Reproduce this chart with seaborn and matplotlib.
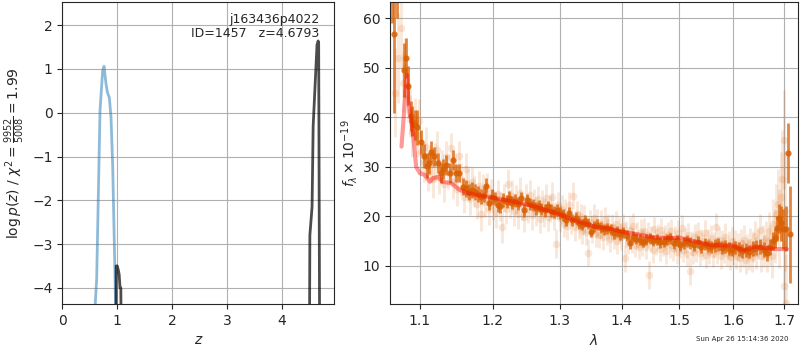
import numpy as np
import pandas as pd
import seaborn as sns
import matplotlib
matplotlib.use("Agg")
from matplotlib import pyplot as plt
from matplotlib.ticker import NullLocator

# ---- p(z) panel ----
pz_blue_z = [0.57, 0.625, 0.686, 0.734, 0.759, 0.795, 0.82, 0.856, 0.886, 0.917, 0.96, 0.985]
pz_blue_lnp = [-5.0, -3.8, 0.05, 0.96, 1.06, 0.66, 0.47, 0.34, -0.1, -1.23, -3.81, -5.5]

pz_low_z = [0.975, 0.98, 1.0, 1.02, 1.035, 1.05, 1.065, 1.075]
pz_low_lnp = [-6.0, -3.5, -3.5, -3.6, -3.7, -4.0, -4.0, -6.0]

pz_high_z = [4.495, 4.505, 4.545, 4.565, 4.635, 4.655, 4.665, 4.685]
pz_high_lnp = [-6.0, -2.8, -2.15, -0.3, 1.55, 1.64, 1.6, -6.0]

z_ticks = [0, 1, 2, 3, 4]
lnp_ticks = [-4, -3, -2, -1, 0, 1, 2]

obj_name = "j163436p4022"
obj_id = 1457
z_best = 4.6793
chi2_num, chi2_den, chi2_red = 9952, 5008, 1.99
stamp = "Sun Apr 26 15:14:36 2020"

# ---- spectrum panel ----
faint_wave = [1.068, 1.072, 1.075, 1.078, 1.081, 1.084, 1.087, 1.090, 1.093, 1.096, 1.099,
              1.102, 1.105, 1.108, 1.111, 1.114, 1.117, 1.120, 1.123, 1.126, 1.129,
              1.132, 1.135, 1.138, 1.141, 1.144, 1.147, 1.150, 1.153, 1.156, 1.159,
              1.162, 1.165, 1.168, 1.171, 1.174, 1.177, 1.180, 1.183, 1.186, 1.189,
              1.192, 1.195, 1.198, 1.201, 1.204, 1.207, 1.210, 1.213, 1.216, 1.219,
              1.222, 1.225, 1.228, 1.231, 1.234, 1.237, 1.240, 1.243, 1.246, 1.249,
              1.252, 1.255, 1.258, 1.261, 1.264, 1.267, 1.270, 1.273, 1.276, 1.279,
              1.282, 1.285, 1.288, 1.291, 1.294, 1.297, 1.300, 1.303, 1.306, 1.309,
              1.312, 1.315, 1.318, 1.321, 1.324, 1.327, 1.330, 1.333, 1.336, 1.339,
              1.342, 1.345, 1.348, 1.351, 1.354, 1.357, 1.360, 1.363, 1.366, 1.369,
              1.372, 1.375, 1.378, 1.381, 1.384, 1.387, 1.390, 1.393, 1.396, 1.399,
              1.402, 1.405, 1.408, 1.411, 1.414, 1.417, 1.420, 1.423, 1.426, 1.429,
              1.432, 1.435, 1.438, 1.441, 1.444, 1.447, 1.450, 1.453, 1.456, 1.459,
              1.462, 1.465, 1.468, 1.471, 1.474, 1.477, 1.480, 1.483, 1.486, 1.489,
              1.492, 1.495, 1.498, 1.501, 1.504, 1.507, 1.510, 1.513, 1.516, 1.519,
              1.522, 1.525, 1.528, 1.531, 1.534, 1.537, 1.540, 1.543, 1.546, 1.549,
              1.552, 1.555, 1.558, 1.561, 1.564, 1.567, 1.570, 1.573, 1.576, 1.579,
              1.582, 1.585, 1.588, 1.591, 1.594, 1.597, 1.600, 1.603, 1.606, 1.609,
              1.612, 1.615, 1.618, 1.621, 1.624, 1.627, 1.630, 1.633, 1.636, 1.639,
              1.642, 1.645, 1.648, 1.651, 1.654, 1.657, 1.660, 1.663, 1.666, 1.669,
              1.672, 1.675, 1.678, 1.681, 1.684, 1.687, 1.690, 1.693, 1.696, 1.699,
              1.701, 1.703, 1.705]
faint_flux = [45.0, 52.0, 58.0, 47.0, 50.0, 44.0, 41.0, 37.0, 39.5, 36.5, 39.3,
              33.0, 31.0, 34.0, 29.0, 30.5, 27.5, 31.0, 33.5, 28.0, 30.0,
              26.5, 32.0, 29.0, 33.8, 27.0, 29.5, 25.5, 32.2, 27.5, 24.0,
              29.5, 26.5, 23.5, 27.0, 25.0, 22.5, 26.2, 20.5, 25.5, 23.0,
              25.8, 21.5, 24.8, 22.3, 20.8, 24.5, 22.0, 17.8, 23.8, 21.4,
              26.5, 22.5, 24.2, 21.0, 23.5, 20.5, 24.8, 22.0, 19.8, 23.6,
              21.5, 24.3, 20.2, 22.8, 21.0, 23.5, 19.5, 22.5, 20.8, 23.8,
              19.8, 21.6, 24.0, 20.0, 14.5, 22.2, 19.6, 21.4, 18.5, 20.8,
              18.0, 22.2, 19.0, 24.2, 17.8, 20.5, 18.2, 19.8, 17.0, 19.5,
              16.8, 12.7, 18.6, 17.2, 19.6, 16.5, 18.8, 16.2, 18.5, 15.9,
              19.2, 16.8, 18.0, 15.5, 17.8, 16.0, 18.4, 15.0, 17.3, 15.8,
              18.0, 11.5, 16.5, 14.8, 17.2, 15.2, 18.0, 14.2, 16.3, 13.8,
              16.8, 14.5, 17.0, 13.9, 16.2, 8.2, 15.5, 13.2, 17.4, 14.8,
              16.0, 13.5, 17.2, 14.5, 15.8, 13.0, 16.3, 14.2, 17.0, 13.6,
              15.5, 12.8, 16.6, 14.0, 17.6, 13.3, 15.2, 12.5, 16.2, 9.0,
              14.5, 12.8, 15.9, 13.4, 16.4, 12.6, 15.0, 13.8, 16.6, 12.2,
              14.8, 13.0, 15.6, 12.4, 14.3, 17.8, 13.1, 15.3, 12.0, 14.6,
              13.2, 15.8, 12.6, 14.2, 11.8, 15.0, 12.9, 14.5, 12.0, 13.8,
              11.5, 14.6, 12.5, 15.2, 11.2, 13.7, 12.2, 14.8, 11.8, 13.9,
              16.0, 12.6, 14.4, 17.2, 12.0, 14.8, 13.0, 15.6, 12.3, 17.0,
              14.2, 12.0, 18.5, 16.0, 20.5, 22.5, 17.5, 24.0, 27.5, 35.5,
              6.0, 21.0, 2.5]
faint_err = [9, 9, 8, 6, 6, 5, 5, 5, 4.5, 4.5, 4.5,
             4, 4, 4, 3.8, 3.8, 3.8, 3.8, 3.8, 3.5, 3.5,
             3.5, 3.2, 3.5, 3.0, 3.4, 3.3, 3.5, 3.0, 3.2, 3.4,
             3.2, 3.0, 3.3, 3.0, 3.2, 3.1, 3.0, 3.4, 3.0, 3.2,
             3.0, 3.2, 2.8, 3.0, 3.1, 2.9, 3.0, 3.2, 2.8, 3.0,
             3.0, 2.8, 3.1, 2.9, 2.8, 3.0, 3.1, 2.8, 3.0, 2.9,
             2.8, 3.0, 2.9, 2.8, 3.0, 2.7, 2.9, 2.8, 3.0, 2.7,
             2.8, 2.7, 2.9, 2.8, 3.0, 2.7, 2.8, 2.9, 2.7, 2.8,
             2.7, 2.8, 2.6, 2.8, 2.7, 2.6, 2.8, 2.7, 2.6, 2.8,
             2.6, 2.8, 2.7, 2.6, 2.8, 2.6, 2.7, 2.6, 2.8, 2.6,
             2.7, 2.6, 2.5, 2.7, 2.6, 2.5, 2.7, 2.6, 2.5, 2.6,
             2.5, 2.8, 2.6, 2.5, 2.6, 2.5, 2.7, 2.5, 2.6, 2.5,
             2.6, 2.5, 2.6, 2.5, 2.6, 2.8, 2.5, 2.6, 2.5, 2.6,
             2.5, 2.6, 2.5, 2.6, 2.5, 2.6, 2.5, 2.6, 2.5, 2.6,
             2.6, 2.5, 2.6, 2.5, 2.7, 2.6, 2.5, 2.6, 2.5, 2.8,
             2.6, 2.5, 2.6, 2.6, 2.5, 2.6, 2.5, 2.6, 2.7, 2.6,
             2.6, 2.7, 2.6, 2.7, 2.6, 2.8, 2.7, 2.6, 2.7, 2.6,
             2.7, 2.8, 2.7, 2.8, 2.7, 2.8, 2.7, 2.8, 2.7, 2.8,
             2.8, 2.9, 2.8, 3.0, 2.9, 2.8, 3.0, 2.9, 3.0, 3.1,
             3.0, 3.2, 3.1, 3.3, 3.2, 3.4, 3.3, 3.5, 3.6, 3.8,
             4.0, 4.5, 5.0, 5.5, 6.0, 7.0, 8.0, 9.0, 10.0, 10.0,
             9.0, 12.0, 10.0]

dark_wave = [1.064, 1.067, 1.0705, 1.0786, 1.082, 1.0848, 1.0877, 1.090, 1.0935, 1.0965,
             1.1013, 1.105, 1.109, 1.112, 1.115, 1.119, 1.124, 1.128, 1.131, 1.135,
             1.140, 1.144, 1.149, 1.153, 1.158, 1.162, 1.166, 1.170, 1.175, 1.179,
             1.183, 1.187, 1.191, 1.195, 1.199, 1.203, 1.207, 1.211, 1.215, 1.220,
             1.224, 1.228, 1.232, 1.237, 1.241, 1.245, 1.250, 1.254, 1.259, 1.263,
             1.268, 1.272, 1.277, 1.282, 1.286, 1.291, 1.296, 1.300, 1.305, 1.310,
             1.315, 1.320, 1.325, 1.330, 1.335, 1.340, 1.345, 1.350, 1.355, 1.360,
             1.366, 1.371, 1.376, 1.382, 1.387, 1.392, 1.398, 1.403, 1.409, 1.414,
             1.420, 1.425, 1.431, 1.437, 1.442, 1.448, 1.454, 1.460, 1.466, 1.472,
             1.478, 1.484, 1.490, 1.496, 1.502, 1.508, 1.514, 1.520, 1.527, 1.533,
             1.539, 1.546, 1.552, 1.558, 1.565, 1.571, 1.578, 1.584, 1.591, 1.597,
             1.604, 1.611, 1.617, 1.624, 1.631, 1.638, 1.645, 1.652, 1.659, 1.666,
             1.672, 1.677, 1.682, 1.686, 1.690, 1.694, 1.698, 1.704, 1.708, 1.712]
dark_flux = [70.0, 56.8, 72.0, 49.6, 52.0, 46.4, 40.3, 39.2, 38.5, 38.0,
             35.0, 32.2, 30.2, 30.7, 33.1, 32.1, 30.7, 28.7, 29.5, 30.4,
             28.7, 31.4, 28.7, 28.7, 26.0, 25.7, 25.0, 25.3, 25.0, 24.6,
             24.0, 24.4, 26.2, 22.7, 24.0, 23.6, 22.3, 22.0, 23.3, 23.0,
             23.7, 22.8, 23.2, 22.6, 23.7, 21.3, 23.3, 22.5, 22.3, 21.6,
             22.1, 21.5, 21.2, 22.0, 21.1, 20.8, 21.2, 20.6, 20.2, 19.3,
             20.6, 19.2, 19.6, 18.7, 18.3, 19.0, 18.5, 16.9, 18.0, 18.3,
             17.7, 17.4, 17.6, 17.3, 16.6, 17.0, 16.4, 16.8, 16.1, 14.6,
             15.9, 15.5, 15.3, 14.9, 15.3, 15.6, 15.1, 15.3, 14.8, 14.9,
             15.4, 15.6, 14.6, 15.2, 14.2, 14.6, 15.0, 14.6, 14.3, 14.8,
             13.9, 14.4, 14.1, 13.8, 14.2, 14.4, 13.7, 14.0, 13.5, 13.2,
             13.8, 13.4, 13.0, 13.2, 12.9, 13.5, 13.7, 13.9, 13.3, 12.6,
             13.8, 15.0, 15.6, 17.6, 19.6, 18.6, 17.5, 17.5, 32.8, 16.4]
dark_err = [11, 16, 12, 5.5, 4, 4, 3, 3, 3, 3.5,
            2.5, 2.5, 2.5, 2.2, 2.2, 2.0, 2.0, 2.0, 2.0, 2.0,
            2.0, 2.0, 1.8, 1.8, 1.7, 1.7, 1.6, 1.6, 1.6, 1.6,
            1.6, 1.5, 1.5, 1.5, 1.5, 1.4, 1.4, 1.4, 1.4, 1.4,
            1.4, 1.4, 1.3, 1.4, 1.3, 1.4, 1.3, 1.3, 1.3, 1.3,
            1.3, 1.3, 1.3, 1.2, 1.3, 1.2, 1.2, 1.2, 1.2, 1.2,
            1.2, 1.2, 1.2, 1.2, 1.1, 1.2, 1.1, 1.1, 1.1, 1.1,
            1.1, 1.1, 1.1, 1.1, 1.1, 1.1, 1.1, 1.1, 1.1, 1.1,
            1.1, 1.1, 1.1, 1.1, 1.1, 1.1, 1.1, 1.1, 1.1, 1.1,
            1.1, 1.1, 1.1, 1.1, 1.1, 1.2, 1.2, 1.2, 1.2, 1.2,
            1.2, 1.2, 1.2, 1.2, 1.3, 1.3, 1.3, 1.3, 1.3, 1.3,
            1.3, 1.4, 1.4, 1.4, 1.4, 1.5, 1.5, 1.5, 1.6, 1.6,
            1.7, 1.8, 2.0, 2.5, 3.0, 3.5, 4.0, 4.5, 6.0, 9.8]

model_wave = [1.076, 1.083, 1.0845, 1.091, 1.095, 1.100, 1.106, 1.113, 1.117, 1.124,
              1.130, 1.142, 1.153, 1.164, 1.177, 1.190, 1.200, 1.226, 1.256, 1.286,
              1.300, 1.325, 1.357, 1.383, 1.400, 1.430, 1.459, 1.483, 1.500, 1.526,
              1.558, 1.583, 1.596, 1.609, 1.622, 1.642, 1.662, 1.682, 1.706]
model_flux = [34.1, 48.6, 43.5, 36.8, 30.0, 28.7, 28.4, 27.0, 27.7, 28.0,
              27.0, 26.7, 25.4, 24.7, 24.3, 24.0, 23.8, 23.1, 22.2, 21.0,
              20.4, 19.1, 17.9, 17.5, 16.9, 16.3, 15.7, 15.6, 15.7, 15.0,
              14.2, 14.1, 14.2, 13.6, 13.2, 13.9, 13.6, 13.4, 13.4]

wave_ticks = [1.1, 1.2, 1.3, 1.4, 1.5, 1.6, 1.7]
flux_ticks = [10, 20, 30, 40, 50, 60]

spec_color = "#d95f02"

sns.set_style("ticks")

fig = plt.figure(figsize=(8, 3.5), dpi=100)
ax1 = fig.add_axes([0.0779, 0.1314, 0.34, 0.8629])
ax2 = fig.add_axes([0.4875, 0.1314, 0.51, 0.8629])

# left: p(z)
sns.lineplot(x=pz_blue_z, y=pz_blue_lnp, sort=False, estimator=None, ax=ax1,
             color="#1f77b4", alpha=0.5, lw=2)
sns.lineplot(x=pz_low_z, y=pz_low_lnp, sort=False, estimator=None, ax=ax1,
             color="k", alpha=0.7, lw=2)
sns.lineplot(x=pz_high_z, y=pz_high_lnp, sort=False, estimator=None, ax=ax1,
             color="k", alpha=0.7, lw=2)
ax1.set_xlim(0, 4.95)
ax1.set_ylim(-4.37, 2.53)
ax1.set_xticks(z_ticks)
ax1.set_yticks(lnp_ticks)
ax1.grid(True, color="#b0b0b0", lw=0.8)
ax1.set_xlabel(r"$z$")
ax1.set_ylabel(r"$\log p(z)$ / $\chi^2=\frac{%d}{%d}=%.2f$" % (chi2_num, chi2_den, chi2_red))
ax1.text(0.945, 0.965, "%s\nID=%d   z=%.4f" % (obj_name, obj_id, z_best),
         transform=ax1.transAxes, ha="right", va="top", fontsize=9, linespacing=1.15)

# right: spectrum
faint = pd.DataFrame({"wave": faint_wave, "flux": faint_flux, "err": faint_err})
dark = pd.DataFrame({"wave": dark_wave, "flux": dark_flux, "err": dark_err})
model = pd.DataFrame({"wave": model_wave, "flux": model_flux})

ax2.set_xscale("log")
ax2.errorbar(faint["wave"], faint["flux"], yerr=faint["err"], fmt="none",
             ecolor=spec_color, alpha=0.15, elinewidth=2)
sns.scatterplot(data=faint, x="wave", y="flux", ax=ax2, color=spec_color,
                alpha=0.15, s=30, linewidth=0)
ax2.errorbar(dark["wave"], dark["flux"], yerr=dark["err"], fmt="none",
             ecolor=spec_color, alpha=0.75, elinewidth=2)
sns.scatterplot(data=dark, x="wave", y="flux", ax=ax2, color=spec_color,
                alpha=0.85, s=20, linewidth=0)
sns.lineplot(data=model, x="wave", y="flux", sort=False, estimator=None, ax=ax2,
             color="red", alpha=0.4, lw=3)

ax2.set_xlim(1.0613, 1.7287)
ax2.set_ylim(2.3, 63.3)
ax2.set_xticks(wave_ticks)
ax2.set_xticklabels(["%.1f" % w for w in wave_ticks])
ax2.xaxis.set_minor_locator(NullLocator())
ax2.set_yticks(flux_ticks)
ax2.grid(True, color="#b0b0b0", lw=0.8)
ax2.set_xlabel(r"$\lambda$")
ax2.set_ylabel(r"$f_\lambda\times10^{-19}$")
ax2.yaxis.labelpad = 2

fig.text(0.985, 0.03, stamp, ha="right", va="center", fontsize=5)

fig.savefig("out.png", dpi=100)
